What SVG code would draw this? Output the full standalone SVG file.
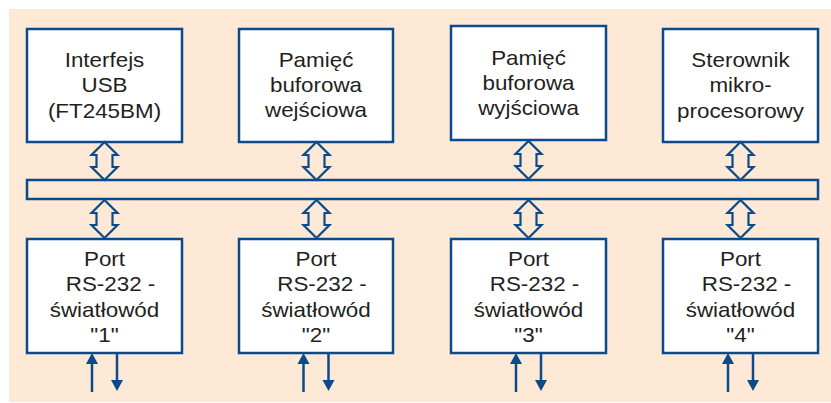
<svg xmlns="http://www.w3.org/2000/svg" width="831" height="403" viewBox="0 0 831 403">
<style>
.box{fill:#ffffff;stroke:#0b4a8b;stroke-width:2.5}
.bus{fill:none;stroke:#0b4a8b;stroke-width:2.5}
.dbl{fill:#fde9d6;stroke:#0b4a8b;stroke-width:2.2;stroke-linejoin:miter}
.ln{stroke:#0b4a8b;stroke-width:2.5;fill:none}
.hd{fill:#0b4a8b;stroke:none}
text{font-family:"Liberation Sans",Arial,sans-serif;font-size:20px;fill:#231f20;text-anchor:middle}
</style>
<defs>
<path id="dblA" class="dbl" d="M0,0 L13,13 L8,13 L8,25 L13,25 L0,38 L-13,25 L-8,25 L-8,13 L-13,13 Z"/>
<g id="io">
<line class="ln" x1="-12.5" y1="392" x2="-12.5" y2="362"/>
<path class="hd" d="M-12.5,353 L-6.5,364 L-18.5,364 Z"/>
<line class="ln" x1="12.5" y1="353" x2="12.5" y2="381"/>
<path class="hd" d="M12.5,391 L18.5,380 L6.5,380 Z"/>
</g>
</defs>
<rect x="9" y="9" width="822" height="393" fill="#fde9d6"/>

<g id="bus"><rect class="bus" x="27" y="180" width="791" height="19"/></g>

<g id="usb">
<rect class="box" x="27" y="29" width="155" height="113"/>
<text transform="translate(104.5,67) scale(1.12,1)">Interfejs</text>
<text transform="translate(104.5,92) scale(1.12,1)">USB</text>
<text transform="translate(104.5,118) scale(1.12,1)">(FT245BM)</text>
</g>
<g id="mem-in">
<rect class="box" x="239" y="29" width="154" height="113"/>
<text transform="translate(316,67) scale(1.12,1)">Pamięć</text>
<text transform="translate(316,92) scale(1.12,1)">buforowa</text>
<text transform="translate(316,117) scale(1.12,1)">wejściowa</text>
</g>
<g id="mem-out">
<rect class="box" x="451" y="26" width="155" height="114"/>
<text transform="translate(528.5,65) scale(1.12,1)">Pamięć</text>
<text transform="translate(528.5,90) scale(1.12,1)">buforowa</text>
<text transform="translate(528.5,115) scale(1.12,1)">wyjściowa</text>
</g>
<g id="ctrl">
<rect class="box" x="663" y="29" width="155" height="113"/>
<text transform="translate(740.5,67) scale(1.12,1)">Sterownik</text>
<text transform="translate(740.5,92) scale(1.12,1)">mikro-</text>
<text transform="translate(740.5,118) scale(1.12,1)">procesorowy</text>
</g>

<g id="port1">
<rect class="box" x="27" y="239" width="155" height="114"/>
<text transform="translate(104.5,266) scale(1.12,1)">Port</text>
<text transform="translate(110.5,291) scale(1.12,1)">RS-232 -</text>
<text transform="translate(104.5,317) scale(1.12,1)">światłowód</text>
<text transform="translate(104.5,342) scale(1.12,1)">"1"</text>
</g>
<g id="port2">
<rect class="box" x="239" y="239" width="154" height="114"/>
<text transform="translate(316,266) scale(1.12,1)">Port</text>
<text transform="translate(322,291) scale(1.12,1)">RS-232 -</text>
<text transform="translate(316,317) scale(1.12,1)">światłowód</text>
<text transform="translate(316,342) scale(1.12,1)">"2"</text>
</g>
<g id="port3">
<rect class="box" x="451" y="239" width="155" height="114"/>
<text transform="translate(528.5,266) scale(1.12,1)">Port</text>
<text transform="translate(534.5,291) scale(1.12,1)">RS-232 -</text>
<text transform="translate(528.5,317) scale(1.12,1)">światłowód</text>
<text transform="translate(528.5,342) scale(1.12,1)">"3"</text>
</g>
<g id="port4">
<rect class="box" x="663" y="239" width="155" height="114"/>
<text transform="translate(740.5,266) scale(1.12,1)">Port</text>
<text transform="translate(746.5,291) scale(1.12,1)">RS-232 -</text>
<text transform="translate(740.5,317) scale(1.12,1)">światłowód</text>
<text transform="translate(740.5,342) scale(1.12,1)">"4"</text>
</g>

<g id="connectors">
<use href="#dblA" x="104.5" y="142"/>
<use href="#dblA" x="316.5" y="142"/>
<use href="#dblA" x="528.5" y="141"/>
<use href="#dblA" x="740.5" y="142"/>
<use href="#dblA" x="104.5" y="200"/>
<use href="#dblA" x="316.5" y="200"/>
<use href="#dblA" x="528.5" y="200"/>
<use href="#dblA" x="740.5" y="200"/>
<use href="#io" x="104.5" y="0"/>
<use href="#io" x="316" y="0"/>
<use href="#io" x="528.5" y="0"/>
<use href="#io" x="740.5" y="0"/>
</g>
</svg>
